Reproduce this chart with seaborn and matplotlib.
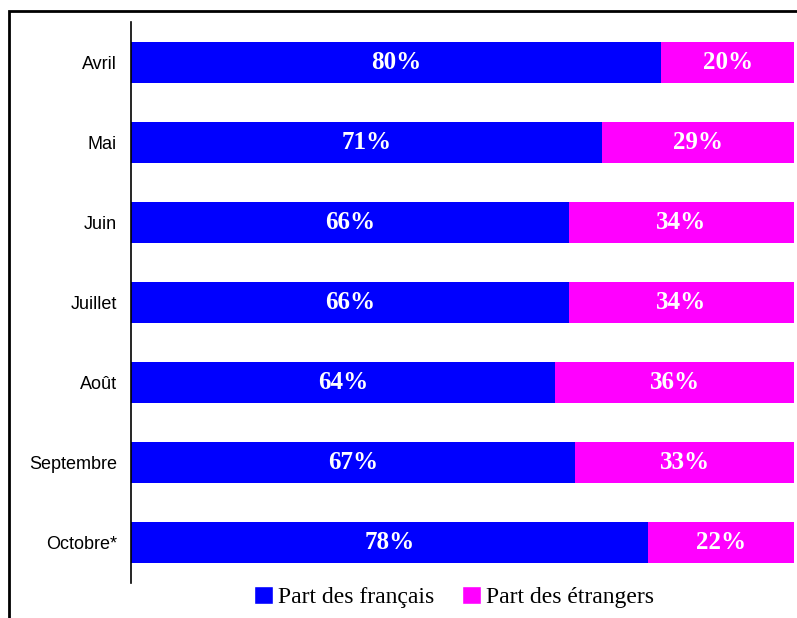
import pandas as pd
import seaborn as sns
import matplotlib.pyplot as plt
from matplotlib.patches import Rectangle, Patch

# Données
mois = ['Avril', 'Mai', 'Juin', 'Juillet', 'Août', 'Septembre', 'Octobre*']
part_francais = [80, 71, 66, 66, 64, 67, 78]
part_etrangers = [20, 29, 34, 34, 36, 33, 22]

bleu = '#0000FF'
magenta = '#FF00FF'

df = pd.DataFrame({'mois': mois, 'fr': part_francais, 'etr': part_etrangers})
df['total'] = df['fr'] + df['etr']

sns.set_style('white')
fig = plt.figure(figsize=(7.97, 6.18), dpi=100)
ax = fig.add_axes([131 / 797, 35 / 618, 663 / 797, 561 / 618])

# barre totale (magenta) puis part des français (bleu) par-dessus
sns.barplot(data=df, y='mois', x='total', color=magenta, saturation=1,
            width=0.51, orient='h', linewidth=0, ax=ax)
sns.barplot(data=df, y='mois', x='fr', color=bleu, saturation=1,
            width=0.51, orient='h', linewidth=0, ax=ax)

for i, row in df.iterrows():
    ax.text(row['fr'] / 2, i, f"{row['fr']}%", ha='center', va='center',
            color='white', fontsize=18, fontweight='bold', family='Liberation Serif')
    ax.text(row['fr'] + row['etr'] / 2, i, f"{row['etr']}%", ha='center', va='center',
            color='white', fontsize=18, fontweight='bold', family='Liberation Serif')

ax.set_xlim(0, 100)
ax.set_ylim(6.5, -0.5)
ax.set_xlabel('')
ax.set_ylabel('')
ax.set_xticks([])
ax.tick_params(axis='y', length=0, pad=10)
for lab in ax.get_yticklabels():
    lab.set_family('Liberation Sans')
    lab.set_fontsize(13)
    lab.set_color('black')
for s in ['top', 'right', 'bottom']:
    ax.spines[s].set_visible(False)
ax.spines['left'].set_color('black')
ax.spines['left'].set_linewidth(1.2)

# légende
handles = [Patch(facecolor=bleu, label='Part des français'),
           Patch(facecolor=magenta, label='Part des étrangers')]
fig.legend(handles=handles, loc='center', bbox_to_anchor=(454 / 797, 1 - 597 / 618),
           ncol=2, frameon=False, handlelength=0.8, handleheight=0.8,
           handletextpad=0.2, columnspacing=1.2,
           prop={'family': 'Liberation Serif', 'size': 17})
for t in fig.legends[0].get_texts():
    t.set_color('black')

# cadre de la figure
fig.patches.append(Rectangle((9 / 797, -0.1), 1.2, 1.1 - 11 / 618, transform=fig.transFigure,
                             fill=False, edgecolor='black', linewidth=2))

fig.savefig('out.png', dpi=100)
